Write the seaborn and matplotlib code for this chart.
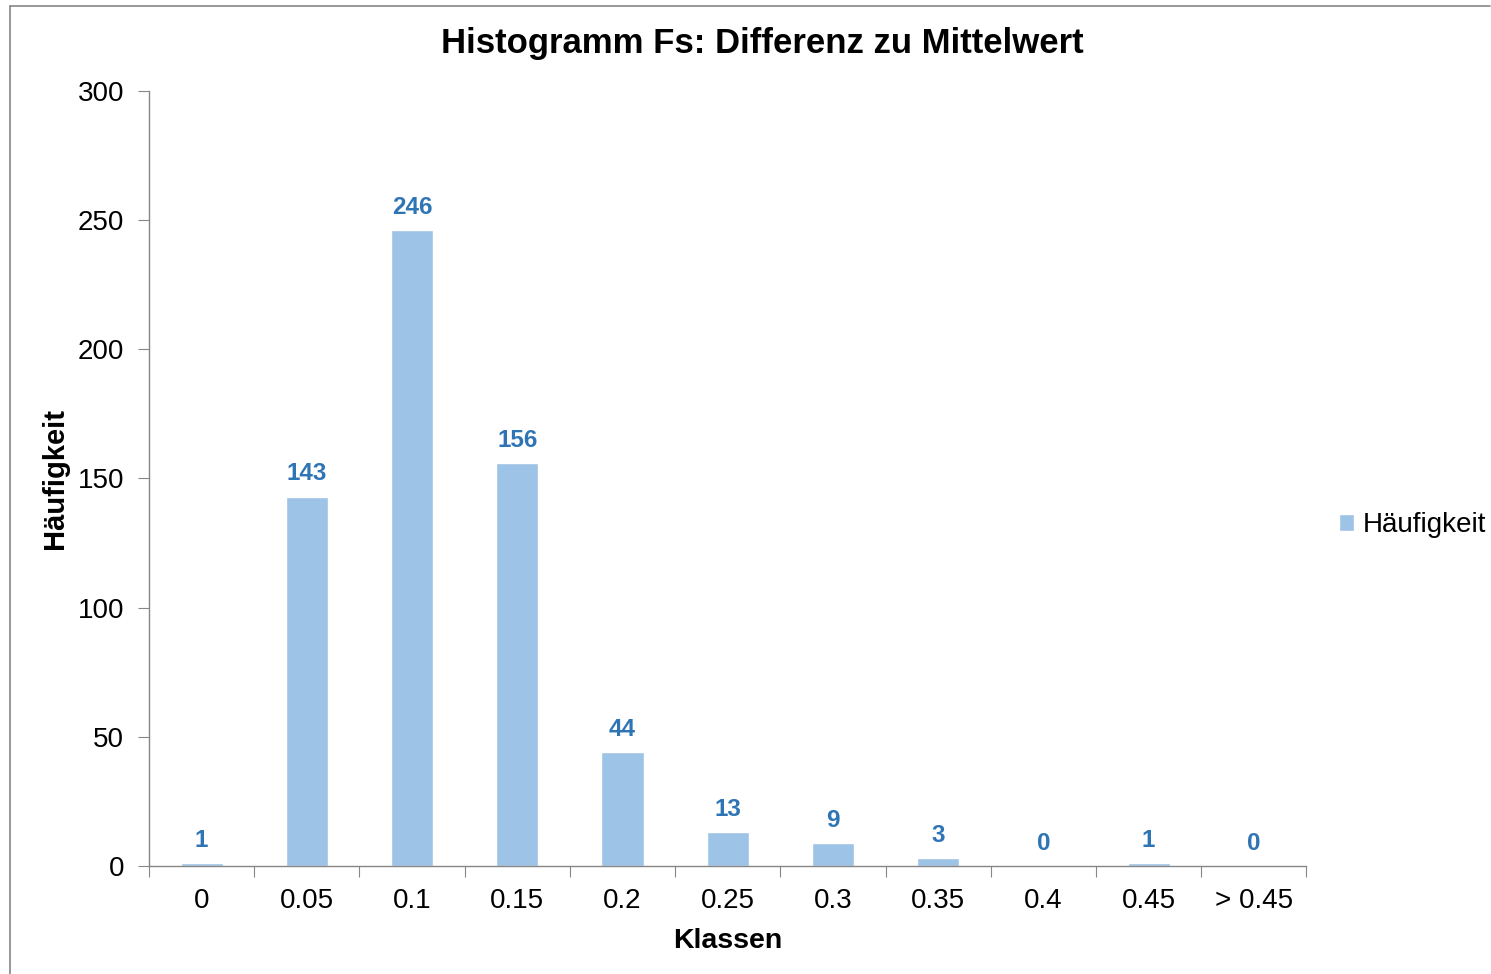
import numpy as np
import pandas as pd
import matplotlib
matplotlib.use('Agg')
import matplotlib.pyplot as plt
import seaborn as sns
from matplotlib.lines import Line2D
from matplotlib.ticker import FixedLocator

klassen = ['0', '0.05', '0.1', '0.15', '0.2', '0.25', '0.3', '0.35', '0.4', '0.45', '> 0.45']
haeufigkeit = [1, 143, 246, 156, 44, 13, 9, 3, 0, 1, 0]

df = pd.DataFrame({'Klassen': klassen, 'Häufigkeit': haeufigkeit})

sns.set_style('white')
plt.rcParams['font.family'] = ['Liberation Sans', 'DejaVu Sans']
plt.rcParams['text.color'] = 'black'
plt.rcParams['xtick.color'] = 'black'
plt.rcParams['ytick.color'] = 'black'
plt.rcParams['axes.labelcolor'] = 'black'

bar_color = '#9DC3E6'
label_color = '#2F75B5'
axis_gray = '#868686'

fig = plt.figure(figsize=(14.91, 9.74), dpi=100)
ax = fig.add_axes([0.0999, 0.1109, 0.7763, 0.7957])

sns.barplot(data=df, x='Klassen', y='Häufigkeit', color=bar_color, width=0.4,
            saturation=1, ax=ax, label='Häufigkeit')

ax.bar_label(ax.containers[0], padding=8, color=label_color,
             fontsize=17.5, fontweight='bold')

ax.set_xlim(-0.5, len(klassen) - 0.5)
ax.set_ylim(0, 300)
ax.set_yticks(range(0, 301, 50))
ax.tick_params(axis='y', labelsize=20, length=8, color=axis_gray, labelcolor='black',
               direction='out', left=True, pad=10)

# ticks between categories, labels at centers
ax.xaxis.set_major_locator(FixedLocator(np.arange(-0.5, len(klassen), 1.0)))
ax.set_xticklabels([])
ax.xaxis.set_minor_locator(FixedLocator(np.arange(len(klassen))))
ax.set_xticklabels(klassen, minor=True)
ax.tick_params(axis='x', which='major', length=8, color=axis_gray, direction='out', bottom=True)
ax.tick_params(axis='x', which='minor', length=0, labelsize=20, labelcolor='black', pad=16)

for s in ['top', 'right']:
    ax.spines[s].set_visible(False)
for s in ['left', 'bottom']:
    ax.spines[s].set_color(axis_gray)
    ax.spines[s].set_linewidth(1)

ax.set_xlabel('Klassen', fontsize=20.5, fontweight='bold', labelpad=10)
ax.set_ylabel('Häufigkeit', fontsize=21, fontweight='bold', labelpad=6)
fig.suptitle('Histogramm Fs: Differenz zu Mittelwert', fontsize=25, fontweight='bold',
             x=0.511, y=0.972)

ax.legend(loc='center left', bbox_to_anchor=(1.028, 0.44), frameon=False, fontsize=20,
          handlelength=0.55, handleheight=0.55, handletextpad=0.3, borderaxespad=0,
          borderpad=0)

# chart area frame
fig.add_artist(Line2D([10 / 1491, 10 / 1491], [0, 1 - 6 / 974], color=axis_gray, lw=1.2,
                      transform=fig.transFigure))
fig.add_artist(Line2D([10 / 1491, 1490 / 1491], [1 - 6 / 974, 1 - 6 / 974], color=axis_gray,
                      lw=1.2, transform=fig.transFigure))

fig.savefig('out.png', dpi=100, facecolor='white')
